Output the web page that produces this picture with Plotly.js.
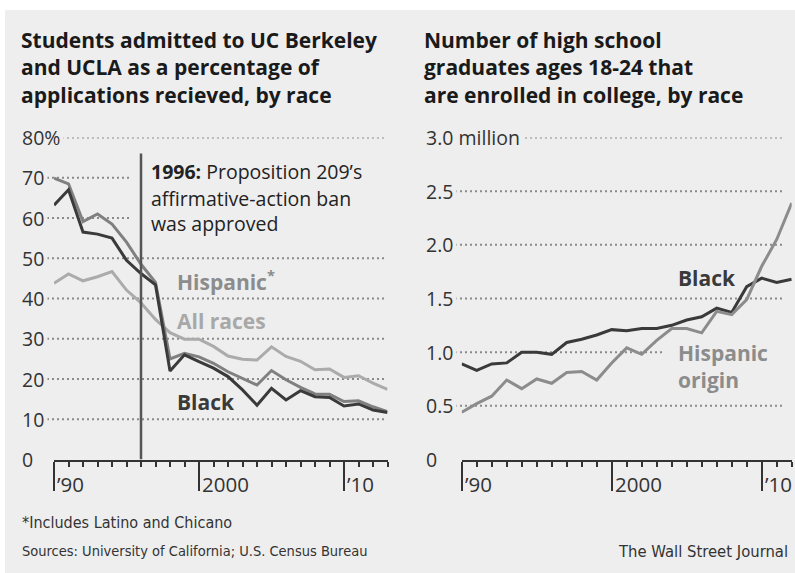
<!DOCTYPE html>
<html><head><meta charset="utf-8">
<script src="https://cdn.plot.ly/plotly-3.0.1.min.js"></script>
<style>html,body{margin:0;padding:0;background:#fff}#chart{width:795px;height:573px}</style>
</head><body><div id="chart"></div>
<script>
// ---- data ----
const leftYears = [1990,1991,1992,1993,1994,1995,1996,1997,1998,1999,2000,2001,2002,2003,2004,2005,2006,2007,2008,2009,2010,2011,2012,2013];
const admitBlack    = [63.2,67.0,56.5,56.0,55.0,49.5,46.2,43.4,22.0,26.0,24.3,22.7,20.6,17.3,13.5,17.7,14.8,17.1,15.6,15.4,13.3,13.8,12.3,11.7];
const admitHispanic = [69.9,68.5,59.1,61.0,58.5,54.0,48.5,44.0,25.0,26.4,25.5,23.9,21.8,20.2,18.5,22.1,19.8,17.9,16.3,16.2,14.4,14.6,13.1,11.9];
const admitAll      = [43.8,46.1,44.4,45.4,46.7,42.1,38.9,34.8,31.5,29.9,29.9,28.1,25.7,24.9,24.7,28.0,25.6,24.4,22.3,22.5,20.4,20.8,19.0,17.4];

const rightYears = [1990,1991,1992,1993,1994,1995,1996,1997,1998,1999,2000,2001,2002,2003,2004,2005,2006,2007,2008,2009,2010,2011,2012];
const enrollBlack    = [0.89,0.83,0.89,0.90,1.00,1.00,0.98,1.09,1.12,1.16,1.21,1.20,1.22,1.22,1.25,1.30,1.33,1.41,1.37,1.61,1.69,1.65,1.68];
const enrollHispanic = [0.44,0.52,0.59,0.74,0.66,0.75,0.71,0.81,0.82,0.74,0.90,1.04,0.98,1.11,1.22,1.22,1.18,1.38,1.35,1.49,1.80,2.05,2.39];

const leftTickVals  = [0,10,20,30,40,50,60,70,80];
const leftTickText  = ['0','10','20','30','40','50','60','70','80%'];
const rightTickVals = [0,0.5,1.0,1.5,2.0,2.5,3.0];
const rightTickText = ['0','0.5','1.0','1.5','2.0','2.5','3.0 million'];
const xMajorVals = [1990,2000,2010];
const xMajorText = ['\u201990','2000','\u201910'];
const eventYear = 1996;

// ---- layout helpers (pixel -> paper) ----
const W = 795, H = 573;
const px = x => x / W;
const py = y => 1 - y / H;
const BG = '#eeeeee';
const FONT = '"Open Sans", "Noto Sans", sans-serif';
const NARROW = '"Liberation Sans Narrow", "DejaVu Sans Condensed", "Roboto Condensed", sans-serif';
const DARK = '#3a3a3a', MID = '#808080', LIGHT = '#ababab';

const traces = [
  {x: leftYears, y: admitAll, xaxis:'x', yaxis:'y', mode:'lines', line:{color:LIGHT, width:3}},
  {x: leftYears, y: admitHispanic, xaxis:'x', yaxis:'y', mode:'lines', line:{color:MID, width:3}},
  {x: leftYears, y: admitBlack, xaxis:'x', yaxis:'y', mode:'lines', line:{color:DARK, width:3}},
  {x: rightYears, y: enrollBlack, xaxis:'x2', yaxis:'y2', mode:'lines', line:{color:DARK, width:3}},
  {x: rightYears, y: enrollHispanic, xaxis:'x2', yaxis:'y2', mode:'lines', line:{color:'#8c8c8c', width:3}}
];

const shapes = [
  {type:'rect', xref:'paper', yref:'paper', x0:0, x1:1, y0:py(0), y1:py(10), fillcolor:'#ffffff', line:{width:0}, layer:'below'},
  {type:'rect', xref:'paper', yref:'paper', x0:0, x1:px(5), y0:0, y1:1, fillcolor:'#ffffff', line:{width:0}, layer:'below'}
];
const grid = {color:'#8a8a8a', width:2, dash:'2px,3px'};
leftTickVals.forEach(v => {
  if (v === 0) return;
  const x1 = (v === 70 || v === 60) ? 130 : 384;
  shapes.push({type:'line', xref:'paper', yref:'y', x0:px(22), x1:px(x1), y0:v, y1:v, line:grid, layer:'below'});
});
rightTickVals.forEach(v => {
  if (v === 0) return;
  const x1 = (v === 1.0) ? 664 : 784;
  shapes.push({type:'line', xref:'paper', yref:'y2', x0:px(425), x1:px(x1), y0:v, y1:v, line:grid, layer:'below'});
});
shapes.push({type:'line', xref:'x', yref:'y', x0:eventYear, x1:eventYear, y0:0, y1:76, line:{color:'#555555', width:2.5}, layer:'above'});

const ann = [];
function txt(o){ ann.push(Object.assign({showarrow:false, xanchor:'left', yanchor:'middle', align:'left', xref:'paper', yref:'paper', font:{family:FONT, size:19.5, color:'#333'}}, o)); }

// titles
txt({x:px(19), y:py(67.5), text:'Students admitted to UC Berkeley<br>and UCLA as a percentage of<br>applications recieved, by race', font:{family:FONT, size:21, color:'#1a1a1a', weight:700}});
txt({x:px(422), y:py(67.5), text:'Number of high school<br>graduates ages 18-24 that<br>are enrolled in college, by race', font:{family:FONT, size:21, color:'#1a1a1a', weight:700}});

// y tick labels
leftTickVals.forEach((v,i) => txt({x:px(18), yref:'y', y:v, text:leftTickText[i], bgcolor:BG, borderpad:3}));
rightTickVals.forEach((v,i) => txt({x:px(422), yref:'y2', y:v, text:rightTickText[i], bgcolor:BG, borderpad:3}));

// x tick labels
xMajorVals.forEach((v,i) => {
  txt({xref:'x', x:v, xshift:1, y:py(484), text:xMajorText[i], font:{family:FONT, size:20.5, color:'#333'}});
  txt({xref:'x2', x:v, xshift:1, y:py(484), text:xMajorText[i], font:{family:FONT, size:20.5, color:'#333'}});
});

// event annotation
const evFont = {family:FONT, size:19.5, color:'#222'};
txt({x:px(149), y:py(171.5), text:'<b>1996:</b> Proposition 209\u2019s', font:evFont});
txt({x:px(149), y:py(198), text:'affirmative-action ban', font:evFont});
txt({x:px(149), y:py(223.5), text:'was approved', font:evFont});

// series labels
txt({x:px(175), y:py(280.5), text:'Hispanic<sup>*</sup>', font:{family:FONT, size:21, color:'#8c8c8c', weight:700}});
txt({x:px(175), y:py(320.5), text:'All races', font:{family:FONT, size:21, color:'#a8a8a8', weight:700}});
txt({x:px(175), y:py(401.5), text:'Black', font:{family:FONT, size:21, color:DARK, weight:700}});
txt({x:px(676), y:py(278), text:'Black', font:{family:FONT, size:21, color:DARK, weight:700}});
txt({x:px(676), y:py(366), text:'Hispanic<br>origin', font:{family:FONT, size:21, color:'#8c8c8c', weight:700}});

// footer
txt({x:px(20), y:py(522), text:'*Includes Latino and Chicano', font:{family:NARROW, size:16, color:'#333'}});
txt({x:px(20), y:py(551), text:'Sources: University of California; U.S. Census Bureau', font:{family:NARROW, size:14.5, color:'#333'}});
txt({x:px(790), xanchor:'right', y:py(551), text:'The Wall Street Journal', font:{family:NARROW, size:16.5, color:'#333'}});

const xCommon = {
  showgrid:false, zeroline:false, showline:true, linecolor:'#333', linewidth:2,
  tickmode:'array', tickvals:xMajorVals, ticks:'outside', ticklen:29, tickwidth:2, tickcolor:'#333',
  showticklabels:false, fixedrange:true,
  minor:{tick0:1990, dtick:1, ticks:'outside', ticklen:5, tickwidth:2, tickcolor:'#333', showgrid:false}
};
const yCommon = {visible:false, showgrid:false, zeroline:false, domain:[py(459.5), py(137.5)], fixedrange:true};

const layout = {
  width:W, height:H, margin:{l:0,r:0,t:0,b:0},
  paper_bgcolor:BG, plot_bgcolor:'rgba(0,0,0,0)', showlegend:false,
  xaxis: Object.assign({}, xCommon, {domain:[px(54), px(387.5)], range:[1990,2013], anchor:'y'}),
  yaxis: Object.assign({}, yCommon, {range:[0,80], anchor:'x'}),
  xaxis2: Object.assign({}, xCommon, {domain:[px(461.7), px(791.7)], range:[1990,2012], anchor:'y2'}),
  yaxis2: Object.assign({}, yCommon, {range:[0,3], anchor:'x2'}),
  shapes: shapes, annotations: ann
};
Plotly.newPlot('chart', traces, layout, {staticPlot:true, displayModeBar:false});
</script></body></html>
